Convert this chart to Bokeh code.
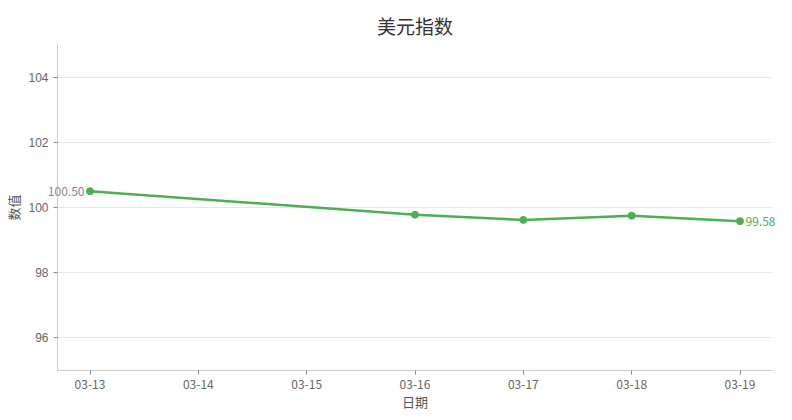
from bokeh.plotting import figure
from bokeh.models import (ColumnDataSource, Range1d, FixedTicker, LinearAxis,
                          PrintfTickFormatter)
from bokeh.embed import file_html
from bokeh.resources import INLINE

all_dates = ["03-13", "03-14", "03-15", "03-16", "03-17", "03-18", "03-19"]
dates = ["03-13", "03-16", "03-17", "03-18", "03-19"]
values = [100.50, 99.78, 99.62, 99.75, 99.58]
y_ticks = [96, 98, 100, 102, 104]

CJK = "Noto Sans CJK SC"
GREEN = "#4caf50"

xs = [all_dates.index(d) for d in dates]
src = ColumnDataSource(dict(x=xs, y=values))

x_lo, x_hi = -0.3, len(all_dates) - 1 + 0.3
y_lo, y_hi = 95, 105

p = figure(width=792, height=420, output_backend="svg", toolbar_location=None,
           x_range=Range1d(x_lo, x_hi), y_range=Range1d(y_lo, y_hi),
           min_border_left=57, min_border_right=20, min_border_top=44, min_border_bottom=50)

p.title.text = "美元指数"
p.title.align = "center"
p.title.vertical_align = "middle"
p.title.text_font = CJK
p.title.text_font_size = "19px"
p.title.text_font_style = "normal"
p.title.text_color = "#333333"
p.title.standoff = 10

p.outline_line_color = None
p.xgrid.grid_line_color = None
p.ygrid.grid_line_color = "#e6e6e6"
p.ygrid.grid_line_width = 1

p.xaxis.ticker = FixedTicker(ticks=list(range(len(all_dates))))
p.xaxis.major_label_overrides = {i: d for i, d in enumerate(all_dates)}
p.yaxis.ticker = FixedTicker(ticks=y_ticks)

for ax in (p.xaxis, p.yaxis):
    ax.axis_line_color = "#cccccc"
    ax.major_tick_line_color = "#888888"
    ax.major_tick_in = 0
    ax.major_tick_out = 4
    ax.minor_tick_line_color = None
    ax.major_label_text_color = "#666666"
    ax.major_label_text_font_size = "12px"
    ax.major_label_text_font = CJK
    ax.axis_label_text_font = CJK
    ax.axis_label_text_font_size = "13px"
    ax.axis_label_text_font_style = "normal"
    ax.axis_label_text_color = "#555555"

p.yaxis.major_label_text_font = "Liberation Sans"
p.xaxis.axis_label = "日期"
p.yaxis.axis_label = "数值"
p.xaxis.axis_label_standoff = 0
p.yaxis.axis_label_standoff = 2

p.line("x", "y", source=src, line_color=GREEN, line_width=2.5)
p.scatter("x", "y", source=src, size=7, fill_color=GREEN, line_color=GREEN)


def point_label(yval, color, side, standoff):
    # value label drawn by an unclipped side axis holding a single tick
    ax = LinearAxis(ticker=FixedTicker(ticks=[yval]),
                    formatter=PrintfTickFormatter(format="%.2f"))
    ax.axis_line_color = None
    ax.major_tick_line_color = None
    ax.minor_tick_line_color = None
    ax.major_tick_in = 0
    ax.major_tick_out = 0
    ax.major_label_standoff = standoff
    ax.major_label_text_color = color
    ax.major_label_text_font = CJK
    ax.major_label_text_font_size = "12px"
    p.add_layout(ax, side)


point_label(values[0], "#888888", "left", -83)
point_label(values[-1], GREEN, "right", -27)

open("out.html", "w").write(file_html(p, INLINE))
